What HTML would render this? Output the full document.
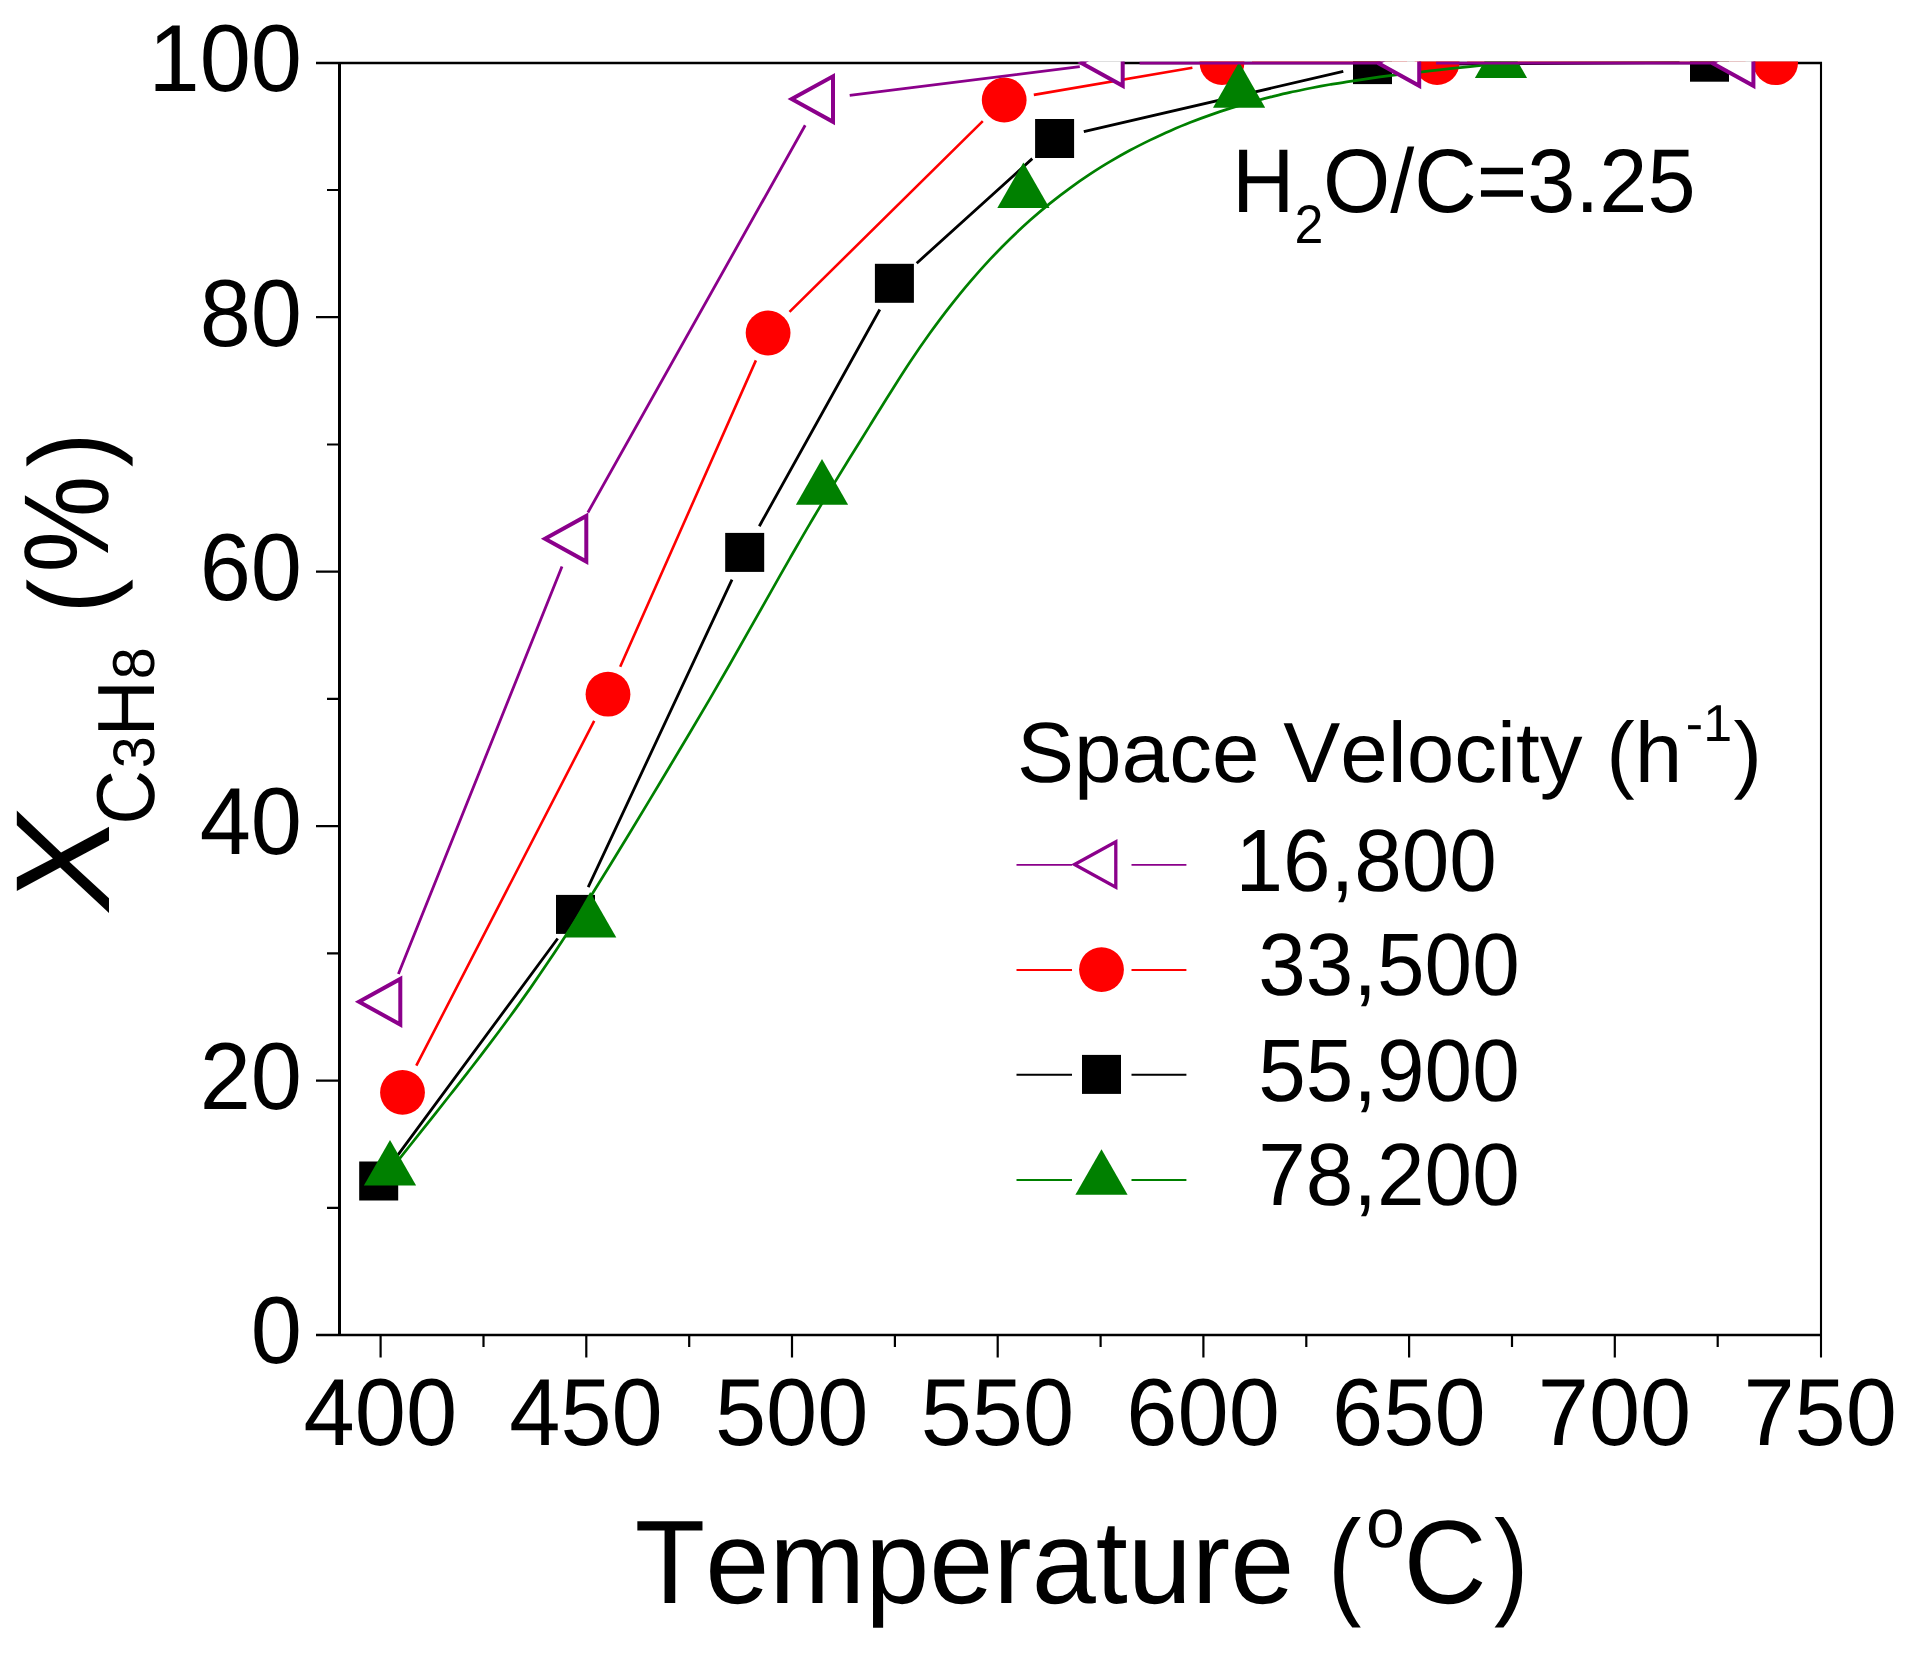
<!DOCTYPE html>
<html><head><meta charset="utf-8"><title>Propane conversion vs temperature</title>
<style>html,body{margin:0;padding:0;background:#fff;width:1907px;height:1653px;overflow:hidden}</style></head>
<body>
<svg width="1907" height="1653" viewBox="0 0 1907 1653" style="display:block;position:absolute;left:0;top:0;font-kerning:none;text-rendering:geometricPrecision">
<defs><clipPath id="plot"><rect x="339.5" y="61.6" width="1481.5" height="1274"/></clipPath></defs>
<rect x="0" y="0" width="1907" height="1653" fill="#fff"/>
<g stroke="#000" fill="none">
<line x1="339.5" y1="62" x2="339.5" y2="1336" stroke-width="3"/>
<line x1="1821" y1="62" x2="1821" y2="1357.5" stroke-width="2.1"/>
<line x1="316" y1="62.9" x2="1822" y2="62.9" stroke-width="2.5"/>
<line x1="316" y1="1335" x2="1822" y2="1335" stroke-width="2.3"/>
<path d="M327 1207.8H339M316 1080.6H339M327 953.3H339M316 826.1H339M327 698.9H339M316 571.7H339M327 444.5H339M316 317.2H339M327 190.0H339M380.6 1335V1357.5M483.5 1335V1347M586.3 1335V1357.5M689.2 1335V1347M792.0 1335V1357.5M894.9 1335V1347M997.7 1335V1357.5M1100.6 1335V1347M1203.4 1335V1357.5M1306.3 1335V1347M1409.1 1335V1357.5M1512.0 1335V1347M1614.8 1335V1357.5M1717.7 1335V1347" stroke-width="2.2"/>
</g>
<g clip-path="url(#plot)">
<path d="M396.5 1156.9L557.7 938.5M588.2 887.2L732.0 579.6M759.3 526.2L879.8 309.5M916.7 263.2L1032.3 158.6M1083.8 131.7L1343.3 71.4M1402.5 64.4L1679.5 62.4" stroke="#000000" stroke-width="2.8" fill="none"/>
<rect x="359.2" y="1161.5" width="39" height="39" fill="#000000"/>
<rect x="556.0" y="894.9" width="39" height="39" fill="#000000"/>
<rect x="725.2" y="532.9" width="39" height="39" fill="#000000"/>
<rect x="874.9" y="263.8" width="39" height="39" fill="#000000"/>
<rect x="1035.1" y="119.0" width="39" height="39" fill="#000000"/>
<rect x="1353.0" y="45.1" width="39" height="39" fill="#000000"/>
<rect x="1690.0" y="42.7" width="39" height="39" fill="#000000"/>
<path d="M416.3 1065.7L594.2 720.9M620.2 666.8L755.9 360.4M789.5 311.9L982.8 121.1M1033.8 94.9L1192.4 67.7M1252.0 62.6L1407.1 62.6M1467.1 62.6L1745.6 62.7" stroke="#FF0000" stroke-width="2.6" fill="none"/>
<circle cx="402.5" cy="1092.4" r="22.4" fill="#FF0000"/>
<circle cx="608" cy="694.2" r="22.4" fill="#FF0000"/>
<circle cx="768.1" cy="333" r="22.4" fill="#FF0000"/>
<circle cx="1004.2" cy="100" r="22.4" fill="#FF0000"/>
<circle cx="1222" cy="62.6" r="22.4" fill="#FF0000"/>
<circle cx="1437.1" cy="62.6" r="22.4" fill="#FF0000"/>
<circle cx="1775.6" cy="62.7" r="22.4" fill="#FF0000"/>
<path d="M390.0 1170.9C393.3 1166.7 403.3 1153.9 410.0 1145.5C416.7 1137.0 423.3 1128.7 430.0 1120.3C436.7 1111.9 443.3 1103.5 450.0 1095.0C456.7 1086.6 463.3 1078.1 470.0 1069.5C476.7 1060.9 483.3 1052.3 490.0 1043.4C496.7 1034.6 503.3 1025.7 510.0 1016.5C516.7 1007.4 523.3 998.1 530.0 988.6C536.7 979.0 543.3 969.3 550.0 959.3C556.7 949.4 563.3 939.2 570.0 928.9C576.7 918.6 583.3 908.1 590.0 897.5C596.7 886.9 603.3 876.2 610.0 865.3C616.7 854.5 623.3 843.5 630.0 832.5C636.7 821.6 643.3 810.5 650.0 799.4C656.7 788.3 663.3 777.1 670.0 766.0C676.7 754.8 683.3 743.7 690.0 732.5C696.7 721.3 703.3 710.0 710.0 698.6C716.7 687.2 723.3 675.6 730.0 664.0C736.7 652.3 743.3 640.5 750.0 628.7C756.7 617.0 763.3 605.1 770.0 593.3C776.7 581.6 783.3 569.8 790.0 558.1C796.7 546.5 803.3 534.9 810.0 523.6C816.7 512.3 823.3 501.1 830.0 490.1C836.7 479.1 843.3 468.3 850.0 457.5C856.7 446.8 863.3 436.1 870.0 425.4C876.7 414.6 883.3 403.7 890.0 393.2C896.7 382.6 903.3 372.0 910.0 362.0C916.7 351.9 923.3 342.3 930.0 333.0C936.7 323.7 943.3 314.8 950.0 306.3C956.7 297.8 963.3 289.6 970.0 281.8C976.7 274.0 983.3 266.6 990.0 259.4C996.7 252.3 1003.3 245.5 1010.0 239.0C1016.7 232.4 1023.3 226.3 1030.0 220.3C1036.7 214.4 1043.3 208.8 1050.0 203.4C1056.7 198.0 1063.3 192.9 1070.0 188.1C1076.7 183.2 1083.3 178.6 1090.0 174.2C1096.7 169.8 1103.3 165.6 1110.0 161.7C1116.7 157.7 1123.3 153.9 1130.0 150.3C1136.7 146.7 1143.3 143.4 1150.0 140.1C1156.7 136.9 1163.3 133.8 1170.0 130.9C1176.7 128.0 1183.3 125.2 1190.0 122.6C1196.7 119.9 1203.3 117.4 1210.0 115.1C1216.7 112.7 1223.3 110.5 1230.0 108.4C1236.7 106.3 1243.3 104.3 1250.0 102.4C1256.7 100.5 1263.3 98.8 1270.0 97.1C1276.7 95.5 1283.3 93.9 1290.0 92.4C1296.7 90.9 1303.3 89.6 1310.0 88.2C1316.7 86.9 1323.3 85.7 1330.0 84.5C1336.7 83.4 1343.3 82.3 1350.0 81.3C1356.7 80.2 1363.3 79.2 1370.0 78.3C1376.7 77.4 1383.3 76.5 1390.0 75.6C1396.7 74.8 1403.3 74.0 1410.0 73.2C1416.7 72.4 1423.3 71.7 1430.0 70.9C1436.7 70.2 1443.3 69.5 1450.0 68.7C1456.7 68.0 1463.3 67.3 1470.0 66.6C1476.7 65.8 1484.8 65.0 1490.0 64.4C1495.2 63.8 1499.2 63.3 1501.0 63.1" stroke="#008000" stroke-width="2.7" fill="none"/>
<path d="M390.0 1140.0L416.1 1185.6L363.9 1185.6Z" fill="#008000"/>
<path d="M590.2 892.0L616.3 937.6L564.1 937.6Z" fill="#008000"/>
<path d="M822.0 459.1L848.1 504.7L795.9 504.7Z" fill="#008000"/>
<path d="M1023.4 162.4L1049.5 208.0L997.3 208.0Z" fill="#008000"/>
<path d="M1239.1 62.1L1265.2 107.7L1213.0 107.7Z" fill="#008000"/>
<path d="M1501.0 32.4L1527.1 78.0L1474.9 78.0Z" fill="#008000"/>
<path d="M398.4 974.0L562.0 566.5M587.9 512.5L805.2 125.3M849.7 95.4L1079.8 66.7M1139.6 63.0L1376.1 63.0M1436.1 63.0L1710.3 63.0" stroke="#8B008B" stroke-width="2.8" fill="none"/>
<path d="M359.0 1001.8L400.3 979.0L400.3 1024.5Z" fill="#fff" stroke="#8B008B" stroke-width="4.0" stroke-linejoin="miter"/>
<path d="M545.0 538.7L586.3 516.0L586.3 561.5Z" fill="#fff" stroke="#8B008B" stroke-width="4.0" stroke-linejoin="miter"/>
<path d="M791.7 99.1L833.0 76.3L833.0 121.8Z" fill="#fff" stroke="#8B008B" stroke-width="4.0" stroke-linejoin="miter"/>
<path d="M1081.4 63.0L1122.7 40.2L1122.7 85.8Z" fill="#fff" stroke="#8B008B" stroke-width="4.0" stroke-linejoin="miter"/>
<path d="M1377.9 63.0L1419.2 40.2L1419.2 85.8Z" fill="#fff" stroke="#8B008B" stroke-width="4.0" stroke-linejoin="miter"/>
<path d="M1712.1 63.0L1753.4 40.2L1753.4 85.8Z" fill="#fff" stroke="#8B008B" stroke-width="4.0" stroke-linejoin="miter"/>
</g>
<g font-family="Liberation Sans, Arial, sans-serif" font-size="92" fill="#000">
<text transform="translate(302.0,1363.3) scale(1.0,1.035)" font-size="92" text-anchor="end" >0</text>
<text transform="translate(302.0,1108.9) scale(1.0,1.035)" font-size="92" text-anchor="end" >20</text>
<text transform="translate(302.0,854.4) scale(1.0,1.035)" font-size="92" text-anchor="end" >40</text>
<text transform="translate(302.0,600.0) scale(1.0,1.035)" font-size="92" text-anchor="end" >60</text>
<text transform="translate(302.0,345.5) scale(1.0,1.035)" font-size="92" text-anchor="end" >80</text>
<text transform="translate(302.0,91.1) scale(1.0,1.035)" font-size="92" text-anchor="end" >100</text>
<text transform="translate(380.3,1445.0) scale(1.0,1.035)" font-size="92" text-anchor="middle" >400</text>
<text transform="translate(586.0,1445.0) scale(1.0,1.035)" font-size="92" text-anchor="middle" >450</text>
<text transform="translate(791.7,1445.0) scale(1.0,1.035)" font-size="92" text-anchor="middle" >500</text>
<text transform="translate(997.4,1445.0) scale(1.0,1.035)" font-size="92" text-anchor="middle" >550</text>
<text transform="translate(1203.1,1445.0) scale(1.0,1.035)" font-size="92" text-anchor="middle" >600</text>
<text transform="translate(1408.8,1445.0) scale(1.0,1.035)" font-size="92" text-anchor="middle" >650</text>
<text transform="translate(1614.5,1445.0) scale(1.0,1.035)" font-size="92" text-anchor="middle" >700</text>
<text transform="translate(1820.2,1445.0) scale(1.0,1.035)" font-size="92" text-anchor="middle" >750</text>
</g>
<g font-family="Liberation Sans, Arial, sans-serif" fill="#000">
<text transform="translate(634.8,1603.0) scale(1.0,1.03)" font-size="115.2" text-anchor="start" >Temperature</text>
<text transform="translate(1328.0,1603.0) scale(0.87,1.03)" font-size="115.2" text-anchor="start" >(</text>
<text transform="translate(1366.1,1547.0) scale(1.0,1.0)" font-size="70" text-anchor="start" >o</text>
<text transform="translate(1403.4,1603.0) scale(1.0,1.03)" font-size="115.2" text-anchor="start" >C</text>
<text transform="translate(1493.9,1603.0) scale(0.9,1.03)" font-size="115.2" text-anchor="start" >)</text>
</g>
<g transform="translate(0,912.8) rotate(-90)" font-family="Liberation Sans, Arial, sans-serif" fill="#000">
<text transform="translate(2.5,108.9) scale(1.065,1.0)" font-size="134" text-anchor="start" font-style="italic">X</text>
<text transform="translate(88.2,154.3) scale(0.963,1.055)" font-size="78" text-anchor="start" >C</text>
<text transform="translate(144.5,154.3) scale(1.0,1.02)" font-size="57.5" text-anchor="start" >3</text>
<text transform="translate(176.3,154.3) scale(1.0,1.04)" font-size="78" text-anchor="start" >H</text>
<text transform="translate(233.5,154.3) scale(1.0,1.03)" font-size="57.5" text-anchor="start" >8</text>
<text transform="translate(299.4,108.5) scale(0.91,1.0)" font-size="114" text-anchor="start" >(</text>
<text transform="translate(340.0,108.3) scale(0.958,1.06)" font-size="114" text-anchor="start" >%</text>
<text transform="translate(445.9,108.5) scale(0.91,1.0)" font-size="114" text-anchor="start" >)</text>
</g>
<g font-family="Liberation Sans, Arial, sans-serif" fill="#000"><text transform="translate(1232.0,212.0) scale(1.0,1.045)" font-size="86.5" text-anchor="start" >H<tspan font-size="52" dy="29.5">2</tspan><tspan dy="-29.5" dx="-0.5">O/C=3.25</tspan></text></g>
<text font-family="Liberation Sans, Arial, sans-serif" font-size="85.5" x="1017" y="781.9" fill="#000">Space Velocity (h<tspan font-size="52" dy="-41.4" dx="3.5">-1</tspan><tspan dy="41.4" dx="1.5">)</tspan></text>
<path d="M1016.5 864.9H1072M1131.5 864.9H1186.4" stroke="#8B008B" stroke-width="1.9" fill="none"/>
<path d="M1074.5 864.5L1115.8 841.8L1115.8 887.2Z" fill="#fff" stroke="#8B008B" stroke-width="3.3" stroke-linejoin="miter"/>
<g font-family="Liberation Sans, Arial, sans-serif" fill="#000"><text transform="translate(1235.4,891.0) scale(1.0,1.035)" font-size="85.5" text-anchor="start" >16,800</text></g>
<path d="M1016.5 970.0H1072M1131.5 970.0H1186.4" stroke="#FF0000" stroke-width="1.9" fill="none"/>
<circle cx="1101.5" cy="969.6" r="22.4" fill="#FF0000"/>
<g font-family="Liberation Sans, Arial, sans-serif" fill="#000"><text transform="translate(1258.2,994.8) scale(1.0,1.035)" font-size="85.5" text-anchor="start" >33,500</text></g>
<path d="M1016.5 1074.8000000000002H1072M1131.5 1074.8000000000002H1186.4" stroke="#000000" stroke-width="1.9" fill="none"/>
<rect x="1082.0" y="1054.9" width="39" height="39" fill="#000000"/>
<g font-family="Liberation Sans, Arial, sans-serif" fill="#000"><text transform="translate(1258.2,1100.6) scale(1.0,1.035)" font-size="85.5" text-anchor="start" >55,900</text></g>
<path d="M1016.5 1180.0H1072M1131.5 1180.0H1186.4" stroke="#008000" stroke-width="1.9" fill="none"/>
<path d="M1101.5 1149.2L1127.6 1194.8L1075.4 1194.8Z" fill="#008000"/>
<g font-family="Liberation Sans, Arial, sans-serif" fill="#000"><text transform="translate(1258.2,1205.2) scale(1.0,1.035)" font-size="85.5" text-anchor="start" >78,200</text></g>
</svg>
</body></html>
